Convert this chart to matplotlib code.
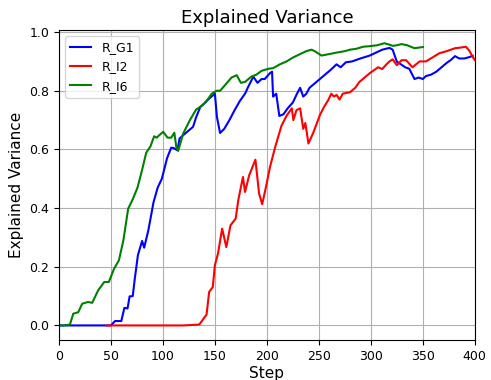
import matplotlib
matplotlib.use("Agg")
import matplotlib.pyplot as plt

# R_G1
g1_x = [0, 10, 20, 30, 40, 50, 54, 60, 63, 66, 68, 71, 73, 76, 80, 82, 86, 91, 95, 99,
        104, 108, 110, 114, 116, 120, 125, 129, 132, 136, 140, 145, 150, 152, 155, 159,
        164, 169, 174, 179, 182, 187, 191, 195, 198, 203, 205, 206, 209, 212, 216, 220,
        225, 229, 232, 235, 238, 241, 246, 251, 256, 261, 267, 271, 276, 282, 290, 299,
        305, 311, 318, 321, 325, 329, 333, 337, 342, 346, 350, 353, 358, 363, 368, 373,
        377, 381, 385, 390, 395, 398]
g1_y = [0.0, 0.0, 0.0, 0.0, 0.0, 0.0, 0.015, 0.015, 0.06, 0.058, 0.099, 0.10, 0.16, 0.24,
        0.288, 0.265, 0.324, 0.42, 0.47, 0.50, 0.57, 0.606, 0.605, 0.597, 0.637, 0.65,
        0.665, 0.677, 0.71, 0.745, 0.757, 0.775, 0.79, 0.71, 0.656, 0.67, 0.70, 0.734,
        0.765, 0.79, 0.813, 0.848, 0.827, 0.84, 0.84, 0.86, 0.865, 0.78, 0.79, 0.714,
        0.72, 0.74, 0.76, 0.79, 0.81, 0.78, 0.79, 0.81, 0.825, 0.84, 0.855, 0.87, 0.89,
        0.88, 0.897, 0.90, 0.91, 0.92, 0.93, 0.94, 0.946, 0.94, 0.899, 0.89, 0.88, 0.875,
        0.84, 0.845, 0.84, 0.85, 0.855, 0.865, 0.88, 0.895, 0.905, 0.918, 0.91, 0.91,
        0.915, 0.919]

# R_I2
i2_x = [46, 60, 80, 100, 120, 135, 142, 144.5, 148, 150, 153, 157, 161, 165, 170, 172.5,
        177, 179, 183, 189, 192.5, 195.5, 199.5, 203, 208, 214, 219, 224, 225.5, 228.5,
        232, 235, 237, 240, 245, 251, 255, 259, 262, 264.5, 267, 270, 273, 280, 285,
        289, 294, 299, 303, 307, 311, 315, 318, 321, 325, 329.5, 334, 340, 347, 353,
        360, 366, 373, 381, 386, 391.5, 395, 398, 400]
i2_y = [0.0, 0.0, 0.0, 0.0, 0.0, 0.003, 0.037, 0.114, 0.131, 0.205, 0.245, 0.33, 0.267,
        0.341, 0.364, 0.427, 0.506, 0.455, 0.512, 0.565, 0.45, 0.413, 0.478, 0.54, 0.608,
        0.68, 0.715, 0.74, 0.70, 0.734, 0.74, 0.67, 0.69, 0.62, 0.66, 0.717, 0.745, 0.768,
        0.79, 0.78, 0.786, 0.77, 0.79, 0.795, 0.81, 0.83, 0.845, 0.86, 0.87, 0.88, 0.874,
        0.89, 0.90, 0.907, 0.887, 0.904, 0.904, 0.88, 0.90, 0.90, 0.915, 0.928, 0.935,
        0.945, 0.947, 0.95, 0.935, 0.915, 0.905]

# R_I6
i6_x = [0, 5, 10.6, 13.8, 18.6, 22.4, 28, 32, 37.8, 43.6, 48, 53, 57.7, 62, 66.6, 71,
        75.6, 80, 84, 88, 91.6, 94, 97, 100.3, 104.5, 108, 111, 113, 114.7, 119.5, 126,
        132, 138, 143, 147, 151.6, 155, 160, 166, 171, 175, 179, 185, 190, 195, 201.6,
        206, 212.5, 219, 225, 232, 238, 243, 246, 252.5, 260, 267, 275, 280, 286, 292.6,
        299, 306, 313, 317, 321, 325, 329.5, 335, 342, 346, 350]
i6_y = [0.0, 0.0, 0.003, 0.04, 0.045, 0.074, 0.08, 0.077, 0.12, 0.148, 0.148, 0.193,
        0.222, 0.29, 0.398, 0.43, 0.47, 0.53, 0.589, 0.61, 0.645, 0.64, 0.65, 0.66, 0.64,
        0.64, 0.657, 0.606, 0.595, 0.654, 0.70, 0.736, 0.75, 0.77, 0.79, 0.80, 0.80, 0.82,
        0.845, 0.853, 0.827, 0.83, 0.848, 0.855, 0.868, 0.875, 0.877, 0.89, 0.90, 0.913,
        0.925, 0.935, 0.94, 0.935, 0.92, 0.925, 0.93, 0.935, 0.94, 0.943, 0.95, 0.952,
        0.955, 0.962, 0.958, 0.953, 0.955, 0.959, 0.955, 0.945, 0.947, 0.949]

fig = plt.figure(figsize=(4.91, 3.8), dpi=100)
ax = fig.add_subplot(111)
ax.plot(g1_x, g1_y, color="blue", label="R_G1")
ax.plot(i2_x, i2_y, color="red", label="R_I2")
ax.plot(i6_x, i6_y, color="green", label="R_I6")
ax.set_xlim(0, 400)
ax.set_ylim(-0.05, 1.007)
ax.set_title("Explained Variance", fontsize=13, pad=5)
ax.set_xlabel("Step", fontsize=11, labelpad=2)
ax.set_ylabel("Explained Variance", fontsize=11)
ax.tick_params(labelsize=9)
ax.grid(True)
ax.legend(loc="upper left", fontsize=9, handlelength=1.7)
fig.subplots_adjust(left=0.12, right=0.967, bottom=0.105, top=0.921)
fig.savefig("out.png", dpi=100)
